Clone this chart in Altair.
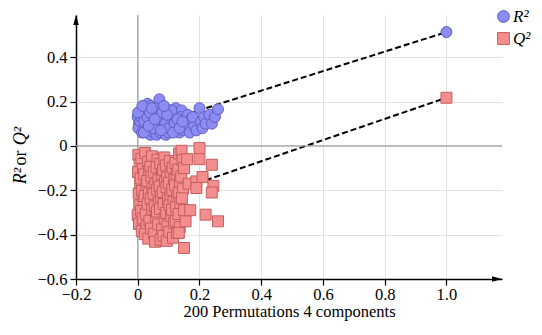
import altair as alt
import pandas as pd

# Permutation results
r2_perm_x = [0.00, 0.004, 0.002, 0.012, 0.008, 0.014, 0.022, 0.018, 0.024, 0.032, 0.027, 0.034, 0.029,
             0.043, 0.038, 0.046, 0.041, 0.052, 0.048, 0.055, 0.051, 0.062, 0.058, 0.064, 0.061, 0.07,
             0.074, 0.068, 0.076, 0.072, 0.083, 0.078, 0.086, 0.081, 0.092, 0.088, 0.094, 0.091, 0.103,
             0.098, 0.105, 0.101, 0.112, 0.108, 0.114, 0.123, 0.118, 0.125, 0.121, 0.133, 0.128, 0.135,
             0.142, 0.138, 0.145, 0.152, 0.148, 0.162, 0.158, 0.172, 0.168, 0.182, 0.178, 0.19, 0.20,
             0.205, 0.21, 0.215, 0.22, 0.232, 0.24, 0.25, 0.26,
             0.011, 0.021, 0.031, 0.039, 0.049, 0.059, 0.069, 0.079, 0.089, 0.099, 0.109, 0.119, 0.129,
             0.02, 0.001, 0.015, 0.035, 0.055, 0.075, 0.095, 0.115, 0.135, 0.145, 0.085, 0.045]
r2_perm_y = [0.13, 0.10, 0.08, 0.15, 0.11, 0.06, 0.17, 0.13, 0.09, 0.19, 0.15, 0.11, 0.07,
             0.18, 0.12, 0.08, 0.05, 0.16, 0.13, 0.10, 0.06, 0.14, 0.11, 0.08, 0.05, 0.21,
             0.15, 0.12, 0.09, 0.06, 0.17, 0.13, 0.10, 0.07, 0.15, 0.12, 0.08, 0.05, 0.16,
             0.13, 0.10, 0.06, 0.14, 0.11, 0.08, 0.17, 0.15, 0.12, 0.07, 0.14, 0.10, 0.06,
             0.16, 0.13, 0.09, 0.12, 0.07, 0.14, 0.10, 0.12, 0.06, 0.09, 0.13, 0.07, 0.17,
             0.11, 0.08, 0.13, 0.10, 0.14, 0.10, 0.13, 0.165,
             0.13, 0.11, 0.13, 0.15, 0.08, 0.17, 0.13, 0.15, 0.10, 0.08, 0.16, 0.10, 0.12,
             0.06, 0.15, 0.18, 0.09, 0.12, 0.07, 0.14, 0.06, 0.08, 0.11, 0.18, 0.17]

q2_perm_x = [0.002, 0.006, 0.001, 0.008, 0.003, 0.005, 0.000, 0.004,
             0.012, 0.017, 0.009, 0.014, 0.019, 0.011, 0.016, 0.013,
             0.024, 0.021, 0.028, 0.022, 0.026, 0.029, 0.023,
             0.033, 0.037, 0.031, 0.036, 0.032, 0.038, 0.034,
             0.046, 0.041, 0.044, 0.048, 0.042, 0.047, 0.043,
             0.052, 0.057, 0.051, 0.055, 0.059, 0.053, 0.056,
             0.064, 0.061, 0.067, 0.063, 0.068, 0.062, 0.066,
             0.073, 0.078, 0.071, 0.075, 0.072, 0.079, 0.074,
             0.086, 0.082, 0.088, 0.081, 0.084, 0.087, 0.083,
             0.091, 0.095, 0.093, 0.098, 0.092, 0.096, 0.094,
             0.104, 0.107, 0.101, 0.106, 0.103, 0.108, 0.102,
             0.113, 0.118, 0.112, 0.116, 0.111, 0.117, 0.114,
             0.122, 0.126, 0.121, 0.128, 0.124, 0.123, 0.127,
             0.134, 0.131, 0.137, 0.133, 0.138, 0.132, 0.136,
             0.142, 0.145, 0.141, 0.147, 0.143, 0.133,
             0.15, 0.15, 0.155, 0.16, 0.165, 0.17, 0.15,
             0.19, 0.19, 0.20, 0.20, 0.21, 0.24, 0.22, 0.245, 0.24, 0.26]
q2_perm_y = [-0.040, -0.083, -0.118, -0.172, -0.215, -0.268, -0.312, -0.352,
             -0.058, -0.104, -0.147, -0.203, -0.246, -0.293, -0.327, -0.384,
             -0.032, -0.128, -0.184, -0.226, -0.305, -0.362, -0.398,
             -0.072, -0.113, -0.158, -0.214, -0.262, -0.337, -0.418,
             -0.047, -0.094, -0.137, -0.193, -0.238, -0.287, -0.372,
             -0.118, -0.174, -0.216, -0.273, -0.318, -0.396, -0.432,
             -0.062, -0.097, -0.152, -0.197, -0.254, -0.296, -0.354,
             -0.081, -0.127, -0.183, -0.227, -0.284, -0.376, -0.423,
             -0.052, -0.108, -0.163, -0.208, -0.262, -0.327, -0.405,
             -0.088, -0.142, -0.186, -0.243, -0.302, -0.358, -0.428,
             -0.068, -0.124, -0.166, -0.223, -0.268, -0.316, -0.387,
             -0.098, -0.153, -0.198, -0.252, -0.287, -0.347, -0.414,
             -0.077, -0.134, -0.178, -0.232, -0.276, -0.338, -0.392,
             -0.034, -0.107, -0.162, -0.212, -0.258, -0.307, -0.366,
             -0.022, -0.063, -0.138, -0.193, -0.236, -0.392,
             -0.10, -0.29, -0.34, -0.06, -0.17, -0.29, -0.46,
             -0.16, -0.19, -0.01, -0.06, -0.14, -0.085, -0.31, -0.18, -0.21, -0.34]

# Original model values (x = 1.0) and regression-line intercepts
orig_x = [1.0, 1.0]
orig_y = [0.513, 0.217]
intercepts = [0.073, -0.26]
series = ["R²", "Q²"]

x_ticks = [-0.2, 0, 0.2, 0.4, 0.6, 0.8, 1.0]
y_ticks = [-0.6, -0.4, -0.2, 0, 0.2, 0.4]

rows = []
for xv, yv in zip(r2_perm_x, r2_perm_y):
    rows.append({"series": series[0], "x": xv, "y": yv})
for xv, yv in zip(q2_perm_x, q2_perm_y):
    rows.append({"series": series[1], "x": xv, "y": yv})
for s, xv, yv in zip(series, orig_x, orig_y):
    rows.append({"series": s, "x": xv, "y": yv})
pts = pd.DataFrame(rows)

line_rows = []
for s, xv, yv, b in zip(series, orig_x, orig_y, intercepts):
    line_rows.append({"series": s, "x": 0.0, "y": b})
    line_rows.append({"series": s, "x": xv, "y": yv})
lines = pd.DataFrame(line_rows)

FONT = "Liberation Serif"
W, H = 426, 264
label_expr = "datum.value == 0 ? '0' : replace(format(datum.value, '.1f'), '-', '\u2212')"

axis_style = dict(labelFont=FONT, labelFontSize=16.5, labelColor="black",
                  tickSize=6, tickColor="black", domainColor="black", domainWidth=1.5,
                  tickWidth=1.2, gridColor="#e2e2e2", labelFlush=False)

x_enc = alt.X("x:Q", scale=alt.Scale(domain=[-0.2, 1.18], nice=False, zero=False),
              axis=alt.Axis(values=x_ticks, labelExpr=label_expr,
                            title="200 Permutations 4 components",
                            titleFont=FONT, titleFontSize=16.5, titleFontWeight="normal",
                            titleColor="black", titlePadding=1, labelPadding=1, **axis_style))
y_enc = alt.Y("y:Q", scale=alt.Scale(domain=[-0.6, 0.59], nice=False, zero=False),
              axis=alt.Axis(values=y_ticks, labelExpr=label_expr, title=None,
                            labelPadding=3, **axis_style))

reg_lines = alt.Chart(lines).mark_line(color="black", strokeDash=[6, 3], strokeWidth=2).encode(
    x=x_enc, y=y_enc, detail="series:N")

zero_x = alt.Chart().mark_rule(color="#a0a0a0", strokeWidth=1.2).encode(x=alt.datum(0))
zero_y = alt.Chart().mark_rule(color="#a0a0a0", strokeWidth=1.2).encode(y=alt.datum(0))

points = alt.Chart(pts).mark_point(filled=True, opacity=1, strokeWidth=1, strokeOpacity=1).encode(
    x=x_enc, y=y_enc,
    shape=alt.Shape("series:N", scale=alt.Scale(domain=series, range=["circle", "square"])),
    fill=alt.Fill("series:N", scale=alt.Scale(domain=series, range=["#8c8cf2", "#f48e8e"])),
    stroke=alt.Stroke("series:N", scale=alt.Scale(domain=series, range=["#5e5ec4", "#c45e5e"])),
)

x_arrow = alt.Chart().mark_point(shape="M-1,-0.55L1,0L-1,0.55Z", filled=True, color="black",
                                  opacity=1, size=100).encode(x=alt.value(W - 5), y=alt.value(H))
y_arrow = alt.Chart().mark_point(shape="M-0.55,1L0,-1L0.55,1Z", filled=True, color="black",
                                  opacity=1, size=100).encode(x=alt.value(0), y=alt.value(5))

ytitle_q = alt.Chart().mark_text(text="Q²", font=FONT, fontSize=18, fontStyle="italic",
                                 angle=270, color="black").encode(x=alt.value(-55), y=alt.value(121))
ytitle_or = alt.Chart().mark_text(text="or", font=FONT, fontSize=18,
                                  angle=270, color="black").encode(x=alt.value(-55), y=alt.value(143))
ytitle_r = alt.Chart().mark_text(text="R²", font=FONT, fontSize=18, fontStyle="italic",
                                 angle=270, color="black").encode(x=alt.value(-55), y=alt.value(161))

chart = alt.layer(reg_lines, zero_x, zero_y, points, x_arrow, y_arrow,
                  ytitle_q, ytitle_or, ytitle_r).properties(
    width=W, height=H,
    autosize=alt.AutoSizeParams(type="none"),
    padding={"left": 68, "top": 7, "right": 32, "bottom": 43},
).configure(font=FONT).configure_view(stroke=None).configure_axis(
    labelFont=FONT, titleFont=FONT,
).configure_point(size=120).configure_legend(
    orient="none", legendX=419, legendY=-7, title=None,
    labelFont=FONT, labelFontSize=17, labelFontStyle="italic", labelColor="black",
    symbolSize=140, symbolStrokeWidth=1, rowPadding=4, labelOffset=1, padding=0,
)

chart.save("out.html", embed_options={"renderer": "svg", "actions": False})
